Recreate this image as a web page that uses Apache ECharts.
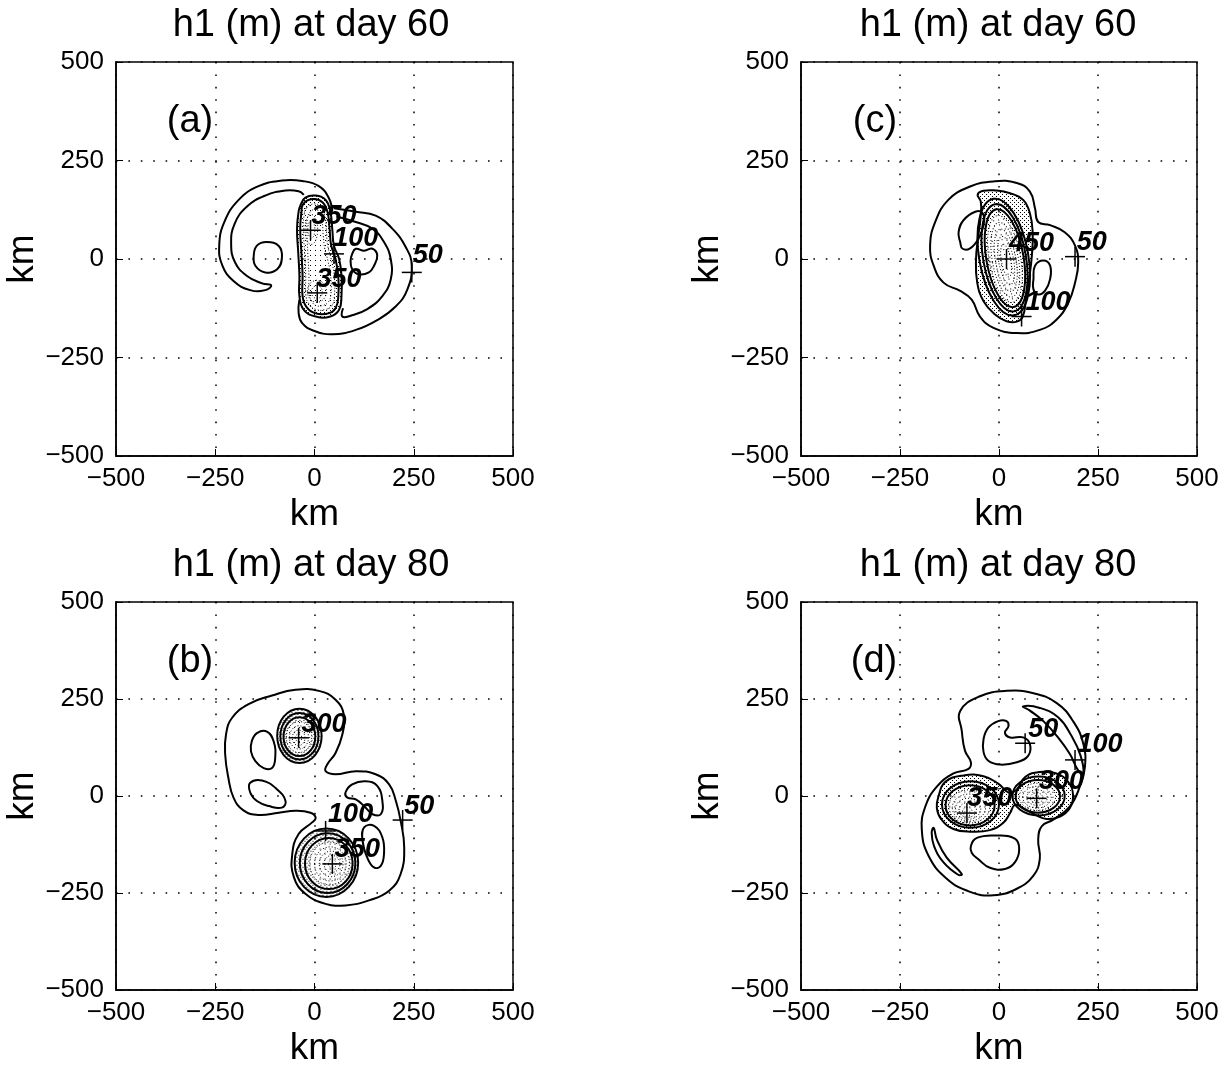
<!DOCTYPE html>
<html><head><meta charset="utf-8">
<script src="https://cdn.jsdelivr.net/npm/echarts@6/dist/echarts.min.js"></script>
<style>html,body{margin:0;padding:0;background:#fff}#c{width:1223px;height:1068px}</style>
</head><body><div id="c"></div>
<script>
// ---------- texts / ticks ----------
const tickValues = [-500, -250, 0, 250, 500];
const panelTitles = ['h1 (m) at day 60', 'h1 (m) at day 80', 'h1 (m) at day 60', 'h1 (m) at day 80'];
const panelLetters = ['(a)', '(b)', '(c)', '(d)'];
const axisName = 'km';

// ---------- panel (a) : day 60 ----------
const a_armLeft = [[45,120],[36,155],[11,185],[-31,198],[-82,199],[-141,185],[-191,150],[-227,94],[-240,34],[-232,-17],[-204,-56],[-162,-79],[-124,-79],[-109,-67],[-132,-62],[-170,-43],[-200,-9],[-210,39],[-201,90],[-170,133],[-124,161],[-73,174],[-40,172],[-27,163]];
const a_armRightOuter = [[49,129],[104,120],[154,110],[196,77],[230,30],[245,-17],[234,-77],[205,-120],[158,-155],[104,-180],[45,-191],[-2,-182],[-31,-163],[-40,-137],[-38,-103]];
const a_armRightInner = [[55,108],[104,94],[146,77],[175,43],[192,0],[192,-52],[171,-94],[133,-127],[91,-144],[70,-146],[72,-125]];
const a_loopLeft = [[-153,9],[-145,34],[-120,43],[-90,33],[-82,4],[-94,-26],[-124,-34],[-149,-17]];
const a_loopRight = [[95,13],[104,26],[125,21],[146,26],[158,9],[150,-17],[137,-34],[112,-39],[95,-26],[91,-4]];
const a_core1 = [[-35,137],[-23,156],[3,161],[28,150],[40,120],[45,73],[49,34],[62,0],[68,-43],[68,-94],[62,-129],[40,-146],[3,-146],[-27,-129],[-38,-94],[-38,-43],[-41,17],[-44,77],[-40,120]];
const a_core2 = [[-28,140],[-5,152],[20,144],[33,118],[38,75],[42,35],[53,0],[60,-45],[60,-95],[53,-125],[35,-138],[3,-138],[-20,-122],[-30,-94],[-30,-43],[-33,17],[-36,77],[-33,118]];
const a_core3 = [[-20,130],[0,140],[15,132],[26,110],[30,73],[33,35],[42,0],[50,-45],[50,-95],[44,-118],[28,-128],[3,-128],[-14,-114],[-22,-90],[-22,-43],[-25,17],[-28,77],[-26,112]];
const a_core4 = [[-12,118],[2,126],[12,118],[19,95],[22,60],[26,25],[34,-5],[41,-45],[41,-92],[34,-110],[20,-118],[3,-118],[-8,-105],[-14,-85],[-14,-43],[-17,17],[-19,70],[-18,102]];
const a_peakRings = [[-8,75,16,38],[-8,75,9,22],[6,-82,24,28],[6,-84,14,16]];
const a_crosses = [[-10,73],[49,13],[7,-86],[245,-34]];
const a_labelText = ['350','100','350','50'];
const a_labelPos = [[49,107],[104,52],[62,-52],[285,9]];

// ---------- panel (b) : day 80 ----------
const b_outer = [[-107,259],[-48,274],[11,271],[53,248],[74,209],[70,158],[53,111],[32,81],[28,64],[53,56],[104,64],[154,56],[188,30],[205,-13],[217,-64],[226,-133],[217,-201],[188,-244],[137,-269],[78,-282],[28,-278],[-23,-252],[-52,-209],[-56,-150],[-40,-98],[-6,-68],[3,-56],[-10,-43],[-48,-38],[-90,-43],[-141,-49],[-179,-37],[-204,-4],[-217,47],[-225,107],[-223,158],[-208,201],[-166,237]];
const b_loopUL = [[-158,141],[-145,162],[-120,166],[-103,141],[-99,98],[-107,72],[-128,72],[-149,90],[-160,115]];
const b_loopLL = [[-162,34],[-132,40],[-94,17],[-73,-13],[-82,-30],[-115,-26],[-145,-13],[-162,9]];
const b_loopR1 = [[78,9],[95,30],[129,38],[158,26],[171,-13],[167,-47],[146,-47],[129,-30],[104,-9],[83,-4]];
const b_loopR2 = [[125,-81],[150,-77],[171,-107],[175,-150],[167,-180],[150,-184],[133,-159],[121,-115]];
const b_upperRingsSolid = [[-38,155,56,70],[-38,154,48,60],[-38,153,40,50]];
const b_upperRingsDotted = [[-39,152,32,40],[-39,151,24,30],[-40,150,16,20],[-40,150,8,10]];
const b_lowerRingsSolid = [[30,-172,80,88],[33,-173,70,77],[36,-174,60,66]];
const b_lowerRingsDotted = [[38,-174,50,55],[40,-175,40,44],[42,-175,30,33],[44,-175,20,22],[45,-175,10,11]];
const b_crosses = [[-40,150],[28,-90],[45,-175],[222,-62]];
const b_labelText = ['300','100','350','50'];
const b_labelPos = [[24,184],[91,-47],[108,-137],[264,-26]];

// ---------- panel (c) : day 60 ----------
const c_outer = [[-73,184],[-14,197],[45,193],[78,171],[91,128],[99,94],[129,86],[166,68],[192,34],[200,-9],[192,-60],[175,-111],[145,-154],[103,-180],[45,-188],[-14,-175],[-48,-146],[-69,-103],[-98,-81],[-140,-60],[-165,-17],[-174,34],[-161,94],[-128,150]];
const c_core = [[-46,146],[-54,164],[-39,173],[-10,174],[28,167],[61,150],[78,116],[85,68],[83,9],[76,-51],[68,-103],[60,-146],[45,-159],[19,-158],[-10,-141],[-39,-107],[-55,-60],[-58,0],[-52,60],[-46,111]];
const c_loopLeft = [[-98,43],[-102,68],[-90,98],[-60,120],[-41,116],[-39,86],[-52,51],[-73,27],[-92,26]];
const c_loopRight = [[87,-51],[91,-17],[112,-4],[129,-17],[129,-51],[116,-81],[99,-90],[87,-77]];
const c_ringsSolid = [[12,5,62,150,10],[14,3,54,138,10],[15,2,47,126,10]];
const c_ringsDotted = [[15,0,40,112,10],[16,-2,33,96,10],[17,-3,26,80,10],[18,-4,19,62,10],[18,-4,12,42,10]];
const c_crosses = [[19,0],[192,6],[57,-146]];
const c_labelText = ['450','50','100'];
const c_labelPos = [[82,39],[234,43],[124,-111]];

// ---------- panel (d) : day 80 ----------
const d_outer = [[-94,168],[-98,219],[-48,257],[19,271],[87,265],[145,240],[187,193],[213,134],[217,75],[204,24],[179,-27],[137,-61],[108,-78],[99,-112],[103,-163],[87,-205],[45,-239],[-14,-256],[-73,-247],[-132,-213],[-178,-154],[-195,-86],[-186,-27],[-157,24],[-115,58],[-77,70],[-71,87],[-86,117]];
const d_loopUp = [[-39,113],[-39,147],[-27,176],[-2,193],[19,193],[24,180],[15,163],[28,151],[61,151],[78,134],[74,104],[45,87],[3,81],[-27,91]];
const d_crescentUR = [[61,231],[103,227],[150,202],[183,155],[206,104],[213,58],[200,66],[179,108],[150,150],[112,193],[78,220]];
const d_crescentLL = [[-165,-82],[-157,-112],[-132,-159],[-94,-201],[-103,-203],[-140,-171],[-164,-129],[-170,-95]];
const d_loopLow = [[-71,-129],[-56,-108],[-6,-102],[40,-110],[51,-137],[40,-171],[15,-188],[-23,-185],[-52,-163],[-69,-146]];
const d_pair = [[-153,-2],[-136,36],[-90,53],[-39,51],[-2,32],[26,8],[45,17],[66,49],[103,62],[145,58],[175,36],[187,3],[179,-31],[154,-53],[120,-59],[91,-48],[61,-31],[40,-23],[28,-44],[11,-69],[-23,-88],[-73,-92],[-115,-85],[-145,-61],[-157,-31]];
const d_leftRingsSolid = [[-72,-22,72,60],[-73,-24,62,52]];
const d_leftRingsDotted = [[-75,-27,52,43],[-76,-30,42,35],[-78,-33,32,27],[-79,-36,22,19],[-80,-40,12,11]];
const d_rightRingsSolid = [[100,0,66,50],[98,-1,56,42]];
const d_rightRingsDotted = [[97,-2,46,35],[96,-3,36,28],[96,-4,26,20],[95,-5,16,13],[95,-6,8,7]];
const d_crosses = [[66,136],[192,93],[95,-6],[-81,-44]];
const d_labelText = ['50','100','300','350'];
const d_labelPos = [[112,172],[255,132],[158,36],[-23,-6]];

// ---------- rendering ----------
const FONT = '"Liberation Sans", Arial, Helvetica, sans-serif';
function dots(size, pts) {
  const cv = document.createElement('canvas'); cv.width = cv.height = size;
  const g = cv.getContext('2d'); g.fillStyle = '#000';
  pts.forEach(p => g.fillRect(p[0], p[1], 1, 1));
  return {image: cv, repeat: 'repeat'};
}
const DENSE = dots(4, [[0,0],[2,2]]);
const LIGHT = dots(5, [[0,0]]);

const SOLID = {w: 2};
const DOT = {w: 1, dash: [1, 2]};
const poly = (pts, s, fill) => ({kind: 'poly', pts, s: s || SOLID, fill});
const line = (pts, s) => ({kind: 'line', pts, s: s || SOLID});
const ell = (e, s, fill) => ({kind: 'ell', e, s: s || SOLID, fill});

const panels = [
  { // a
    items: [
      poly(a_core1, {w:0}, DENSE), poly(a_core3, {w:0}, '#fff'), poly(a_core3, {w:0}, LIGHT),
      line(a_armLeft), line(a_armRightOuter), line(a_armRightInner),
      poly(a_loopLeft), poly(a_loopRight), poly(a_core1), poly(a_core2),
      poly(a_core3, DOT), poly(a_core4, DOT)
    ].concat(a_peakRings.map(e => ell(e, DOT))),
    crosses: a_crosses, labelText: a_labelText, labelPos: a_labelPos
  },
  { // b
    items: [
      ell(b_upperRingsSolid[0], {w:0}, DENSE), ell(b_upperRingsDotted[0], {w:0}, '#fff'), ell(b_upperRingsDotted[0], {w:0}, LIGHT),
      ell(b_lowerRingsSolid[0], {w:0}, DENSE), ell(b_lowerRingsDotted[0], {w:0}, '#fff'), ell(b_lowerRingsDotted[0], {w:0}, LIGHT),
      poly(b_outer), poly(b_loopUL), poly(b_loopLL), poly(b_loopR1), poly(b_loopR2)
    ].concat(b_upperRingsSolid.map(e => ell(e)), b_upperRingsDotted.map(e => ell(e, DOT)),
             b_lowerRingsSolid.map(e => ell(e)), b_lowerRingsDotted.map(e => ell(e, DOT))),
    crosses: b_crosses, labelText: b_labelText, labelPos: b_labelPos
  },
  { // c
    items: [
      poly(c_core, {w:0}, DENSE), ell(c_ringsDotted[0], {w:0}, '#fff'), ell(c_ringsDotted[0], {w:0}, LIGHT),
      poly(c_outer), poly(c_core), poly(c_loopLeft), poly(c_loopRight)
    ].concat(c_ringsSolid.map(e => ell(e)), c_ringsDotted.map(e => ell(e, DOT))),
    crosses: c_crosses, labelText: c_labelText, labelPos: c_labelPos
  },
  { // d
    items: [
      poly(d_pair, {w:0}, DENSE),
      ell(d_leftRingsDotted[0], {w:0}, '#fff'), ell(d_leftRingsDotted[0], {w:0}, LIGHT),
      ell(d_rightRingsDotted[0], {w:0}, '#fff'), ell(d_rightRingsDotted[0], {w:0}, LIGHT),
      poly(d_outer), poly(d_loopUp), poly(d_crescentUR), poly(d_crescentLL), poly(d_loopLow), poly(d_pair)
    ].concat(d_leftRingsSolid.map(e => ell(e)), d_leftRingsDotted.map(e => ell(e, DOT)),
             d_rightRingsSolid.map(e => ell(e)), d_rightRingsDotted.map(e => ell(e, DOT))),
    crosses: d_crosses, labelText: d_labelText, labelPos: d_labelPos
  }
];

const grids = [
  {left: 116, top: 62, width: 397, height: 394},
  {left: 116, top: 602, width: 397, height: 393},
  {left: 801, top: 62, width: 396, height: 394},
  {left: 801, top: 602, width: 396, height: 393}
];
const minus = v => String(v).replace('-', '\u2212');

const series = [];
panels.forEach((p, i) => {
  series.push({
    type: 'custom', xAxisIndex: i, yAxisIndex: i, silent: true, animation: false,
    data: p.items.map(() => [0, 0]),
    renderItem: (params, api) => {
      const it = p.items[params.dataIndex];
      const style = {
        stroke: it.s.w ? '#000' : null, lineWidth: it.s.w || 0,
        lineDash: it.s.dash || null, fill: it.fill || null
      };
      if (it.kind === 'ell') {
        const [cx, cy, rx, ry, rot] = it.e;
        const c = api.coord([cx, cy]);
        const s = api.size([rx, ry]);
        return {type: 'ellipse', x: c[0], y: c[1], rotation: (rot || 0) * Math.PI / 180,
                shape: {cx: 0, cy: 0, rx: s[0], ry: s[1]}, style};
      }
      const pts = it.pts.map(q => api.coord(q));
      return {type: it.kind === 'poly' ? 'polygon' : 'polyline', shape: {points: pts, smooth: 0.45}, style};
    }
  });
  series.push({
    type: 'custom', xAxisIndex: i, yAxisIndex: i, silent: true, animation: false,
    data: p.crosses,
    renderItem: (params, api) => {
      const c = api.coord([api.value(0), api.value(1)]);
      const h = 10;
      return {type: 'group', children: [
        {type: 'line', shape: {x1: c[0]-h, y1: c[1], x2: c[0]+h, y2: c[1]}, style: {stroke: '#000', lineWidth: 1.5}},
        {type: 'line', shape: {x1: c[0], y1: c[1]-h, x2: c[0], y2: c[1]+h}, style: {stroke: '#000', lineWidth: 1.5}}
      ]};
    }
  });
  series.push({
    type: 'custom', xAxisIndex: i, yAxisIndex: i, silent: true, animation: false,
    data: p.labelPos,
    renderItem: (params, api) => {
      const c = api.coord([api.value(0), api.value(1)]);
      return {type: 'text', x: c[0], y: c[1], style: {
        text: p.labelText[params.dataIndex], fill: '#000',
        font: 'italic bold 27px ' + FONT, align: 'center', verticalAlign: 'middle'}};
    }
  });
});

const titleCenters = [[311, 26], [311, 566], [998, 26], [998, 566]];
const letterPos = [[190, 122], [190, 662], [875, 122], [874, 662]];
const graphic = [];
panelTitles.forEach((t, i) => graphic.push({type: 'text', x: titleCenters[i][0], y: titleCenters[i][1],
  style: {text: t, font: '38px ' + FONT, fill: '#000', align: 'center', verticalAlign: 'middle'}}));
panelLetters.forEach((t, i) => graphic.push({type: 'text', x: letterPos[i][0], y: letterPos[i][1],
  style: {text: t, font: '38px ' + FONT, fill: '#000', align: 'center', verticalAlign: 'middle'}}));

const axisCommon = (i) => ({
  gridIndex: i, type: 'value', min: tickValues[0], max: tickValues[tickValues.length-1], interval: 250,
  name: axisName, nameLocation: 'middle',
  nameTextStyle: {fontSize: 37, fontFamily: FONT, color: '#000'},
  axisLine: {show: true, onZero: false, lineStyle: {color: '#000', width: 1.5}},
  axisTick: {show: true, inside: true, length: 7, lineStyle: {color: '#000', width: 1}},
  axisLabel: {fontSize: 26, fontFamily: FONT, color: '#000', formatter: minus},
  splitLine: {show: true, lineStyle: {color: '#000', width: 1.5, type: [1.6, 10.8]}}
});

const option = {
  backgroundColor: '#fff',
  animation: false,
  grid: grids.map(g => Object.assign({show: true, borderColor: '#000', borderWidth: 1.5, backgroundColor: 'transparent'}, g)),
  xAxis: grids.map((g, i) => Object.assign(axisCommon(i), {nameGap: 40, axisLabel: Object.assign(axisCommon(i).axisLabel, {margin: 10})})),
  yAxis: grids.map((g, i) => Object.assign(axisCommon(i), {nameGap: 68, nameRotate: 90, axisLabel: Object.assign(axisCommon(i).axisLabel, {margin: 12})})),
  series, graphic
};
const chart = echarts.init(document.getElementById('c'), null, {renderer: 'canvas'});
chart.setOption(option);
</script></body></html>
